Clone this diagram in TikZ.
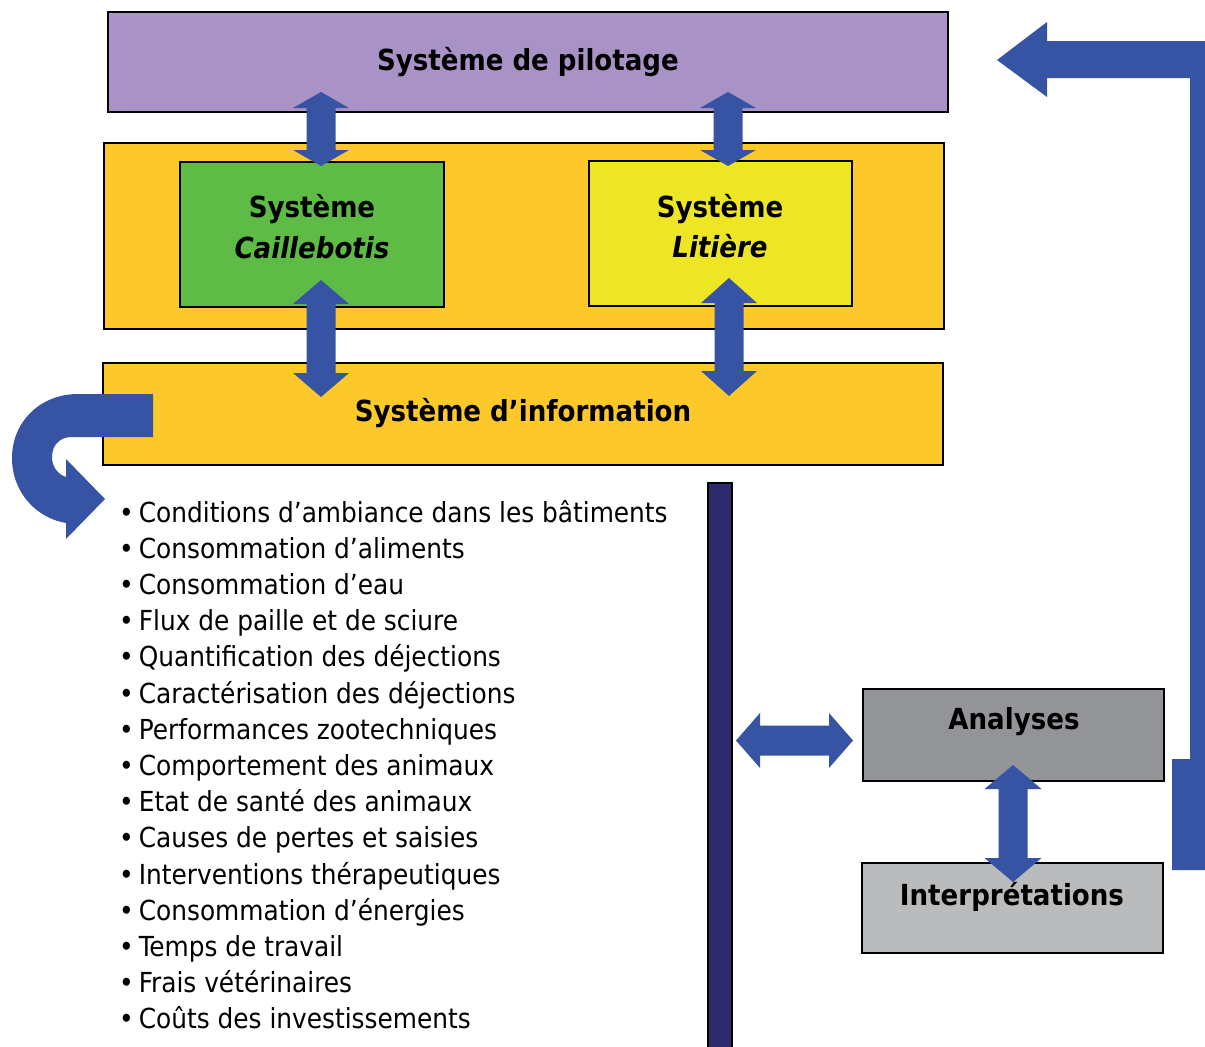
\documentclass[tikz,border=0pt]{standalone}
\usepackage{fontspec}
\setmainfont{DejaVu Sans Condensed}
\definecolor{pilc}{HTML}{A993C6}
\definecolor{orc}{HTML}{FCC82A}
\definecolor{grc}{HTML}{5EBB46}
\definecolor{yec}{HTML}{EDE625}
\definecolor{blc}{HTML}{3753A4}
\definecolor{nvc}{HTML}{2F2A6E}
\definecolor{g1c}{HTML}{929497}
\definecolor{g2c}{HTML}{BABBBD}
\newcommand\VDarrow[6]{% x, ytop, ybot, headlen, headhalf, shafthalf
  \fill[blc] (#1,#2) -- (#1+#5,#2+#4) -- (#1+#6,#2+#4) -- (#1+#6,#3-#4) -- (#1+#5,#3-#4) -- (#1,#3)
   -- (#1-#5,#3-#4) -- (#1-#6,#3-#4) -- (#1-#6,#2+#4) -- (#1-#5,#2+#4) -- cycle;}
\newcommand\HDarrow[6]{% y, xleft, xright, headlen, headhalf, shafthalf
  \fill[blc] (#2,#1) -- (#2+#4,#1-#5) -- (#2+#4,#1-#6) -- (#3-#4,#1-#6) -- (#3-#4,#1-#5) -- (#3,#1)
   -- (#3-#4,#1+#5) -- (#3-#4,#1+#6) -- (#2+#4,#1+#6) -- (#2+#4,#1+#5) -- cycle;}
\tikzset{
  box/.style={draw=black, line width=1.5pt, inner sep=0pt},
  ttl/.style={font=\bfseries\fontsize{29}{33}\selectfont, inner sep=0pt},
  item/.style={anchor=base west, font=\fontsize{27.6}{30}\selectfont, inner sep=0pt}
}
\begin{document}
\begin{tikzpicture}[x=1pt,y=-1pt]
\useasboundingbox (0,0) rectangle (1205,1047);
% boxes
\node[box, fill=pilc, minimum width=840pt, minimum height=100pt] (pil) at (528,62) {};
\node[box, fill=orc, minimum width=840pt, minimum height=186pt] (mid) at (524,236) {};
\node[box, fill=grc, minimum width=264pt, minimum height=145pt] (cai) at (312,234.5) {};
\node[box, fill=yec, minimum width=263pt, minimum height=145pt] (lit) at (720.5,233.5) {};
\node[box, fill=orc, minimum width=840pt, minimum height=102pt] (inf) at (523,414) {};
\node[box, fill=nvc, minimum width=24pt, minimum height=600pt, anchor=north] (bar) at (720,482) {};
\node[box, fill=g1c, minimum width=301pt, minimum height=92pt] (ana) at (1013.5,735) {};
\node[box, fill=g2c, minimum width=301pt, minimum height=90pt] (int) at (1012.5,908) {};
% texts
\node[ttl] (tpil) at (528,62) {Système de pilotage};
\node[ttl] (tcai1) at (312,209) {Système};
\node[ttl] (tcai2) at (312,248) {\itshape Caillebotis};
\node[ttl] (tlit1) at (720,209) {Système};
\node[ttl] (tlit2) at (720,246) {\itshape Litière};
\node[ttl] (tinf) at (523,413) {Système d’information};
\node[ttl] (tana) at (1014,722) {Analyses};
\node[ttl] (tint) at (1012,897) {Interprétations};
% list
\foreach \t [count=\k from 0] in {Conditions d’ambiance dans les bâtiments,Consommation d’aliments,Consommation d’eau,Flux de paille et de sciure,Quantification des déjections,Caractérisation des déjections,Performances zootechniques,Comportement des animaux,Etat de santé des animaux,Causes de pertes et saisies,Interventions thérapeutiques,Consommation d’énergies,Temps de travail,Frais vétérinaires,Coûts des investissements}
  \node[item] (it\k) at (119,522+36.2*\k) {•\hspace{5pt}\t};
% block arrows
\VDarrow{321}{92}{166}{16}{28}{14.5}
\VDarrow{728}{92}{166}{16}{28}{14.5}
\VDarrow{321}{280}{397}{24}{28}{14.5}
\VDarrow{729}{278}{396}{25}{28}{14.5}
\VDarrow{1013}{765}{882}{24}{28.5}{14.5}
\HDarrow{740.5}{736}{853}{24}{27.5}{15}
% feedback arrow right
\fill[blc] (997,60) -- (1047,22) -- (1047,41) -- (1205,41) -- (1205,870) -- (1172,870) -- (1172,759)
  -- (1190,759) -- (1190,78) -- (1047,78) -- (1047,97) -- cycle;
% U-turn arrow left
\fill[blc] (153,394) -- (78,394) .. controls (40,394) and (12,422) .. (12,458)
  .. controls (12,492) and (36,518) .. (66,523) -- (66,539) -- (105,499) -- (66,459) -- (66,477)
  .. controls (57,474) and (52,466) .. (52,457) .. controls (52,445) and (60,437) .. (72,437)
  -- (153,437) -- cycle;
\end{tikzpicture}
\end{document}
